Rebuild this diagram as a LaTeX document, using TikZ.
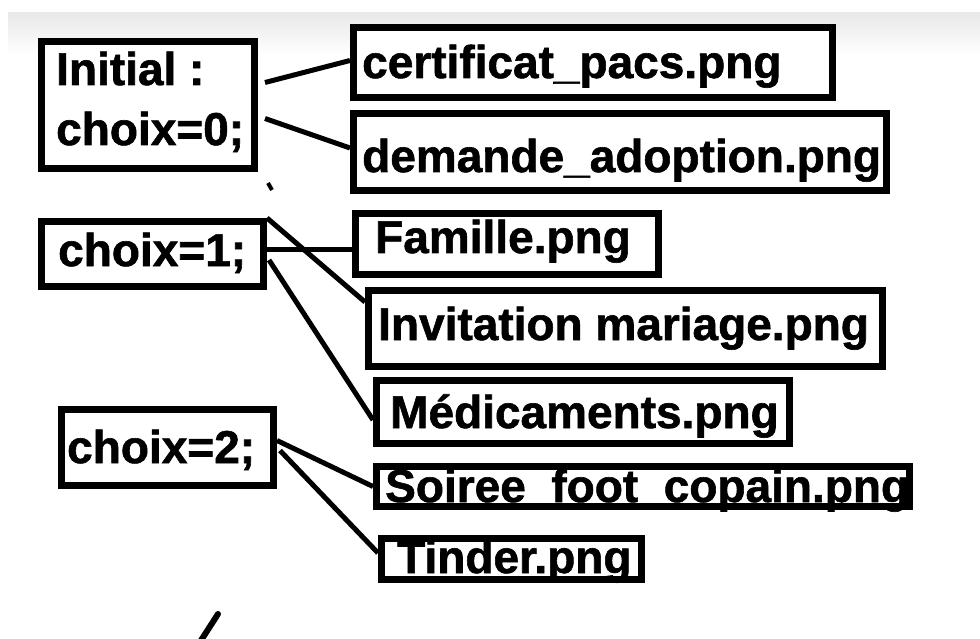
\documentclass[tikz,border=0pt]{standalone}
\usepackage{fontspec}
\setmainfont{Liberation Sans}[BoldFeatures={FakeBold=1.3}]
\usetikzlibrary{calc}
\tikzset{
  box/.style={draw=black, line width=7pt, rectangle, inner sep=0pt, fill=white},
  txt/.style={font=\fontsize{46}{50}\selectfont\bfseries, inner sep=0pt, text=black},
  link/.style={draw=black, line width=5pt},
}
\begin{document}
\begin{tikzpicture}[x=1pt,y=-1pt]
\useasboundingbox (0,0) rectangle (980,639);
\fill[white] (0,0) rectangle (980,639);
\shade[top color=black!9, bottom color=white] (8,13) rectangle (980,55);
% boxes
\node[box, minimum width=213pt, minimum height=127pt] (init) at (148,105) {};
\node[box, minimum width=479pt, minimum height=70pt] (cert) at (593,62.5) {};
\node[box, minimum width=533pt, minimum height=77pt] (dem) at (620,152) {};
\node[box, minimum width=303pt, minimum height=61pt] (fam) at (507,244) {};
\node[box, minimum width=222pt, minimum height=65pt] (c1) at (152.5,254) {};
\node[box, minimum width=514pt, minimum height=76pt] (inv) at (625.5,328.5) {};
\node[box, minimum width=413pt, minimum height=63pt] (med) at (583,412) {};
\node[box, minimum width=212pt, minimum height=76pt] (c2) at (167.5,447.5) {};
\node[box, minimum width=533pt, minimum height=40pt] (soi) at (643,486.5) {};
\node[box, minimum width=260pt, minimum height=41pt] (tin) at (511.5,559) {};
% texts
\node[txt, anchor=base west] (t0a) at (56,85) {Initial :};
\node[txt, anchor=base west] (t0b) at (56,145) {choix=0;};
\node[txt, anchor=base west] (tcert) at (362,78) {certificat\_pacs.png};
\node[txt, anchor=base west] (tdem) at (362,172) {demande\_adoption.png};
\node[txt, anchor=base west] (tfam) at (375,253) {Famille.png};
\node[txt, anchor=base west] (t1) at (58,266) {choix=1;};
\node[txt, anchor=base west] (tinv) at (378,340) {Invitation mariage.png};
\node[txt, anchor=base west] (tmed) at (390,428) {Médicaments.png};
\node[txt, anchor=base west] (t2) at (67,463) {choix=2;};
\node[txt, anchor=base west] (tsoi) at (385,502) {Soiree\hspace{0.556em}foot\hspace{0.556em}copain.png};
\node[txt, anchor=base west] (ttin) at (397,573) {Tinder.png};
% connectors
\draw[link] ($(init.north east)+(7,44.5)$) -- ($(cert.west)+(0,-2)$);
\draw[link] ($(init.north east)+(7,80.5)$) -- ($(dem.west)+(0,-4)$);
\draw[link] ($(c1.east)+(0,-4)$) -- ($(fam.west)+(0,6)$);
\draw[link] (c1.north east) -- ($(inv.north west)+(0,15)$);
\draw[link] ($(c1.east)+(2,6)$) -- ($(med.west)+(0,8)$);
\draw[link] ($(c2.east)+(0,-7)$) -- (soi.west);
\draw[link] ($(c2.east)+(3,3)$) -- ($(tin.west)+(0,-6)$);
% stray marks
\draw[line width=4pt] (268,183) -- (272,190);
\draw[line width=6pt, line cap=round] (200,642) -- (218,614);
\end{tikzpicture}
\end{document}
